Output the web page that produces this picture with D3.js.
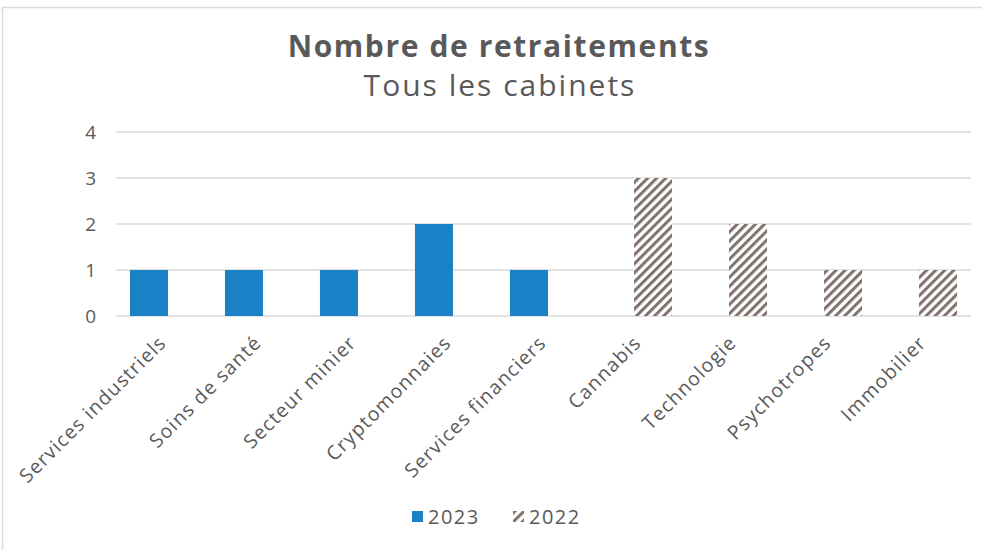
<!DOCTYPE html>
<html>
<head>
<meta charset="utf-8">
<script src="https://cdn.jsdelivr.net/npm/d3@7"></script>
<style>
    html, body { margin: 0; padding: 0; background: #fff; }
    svg { display: block; font-family: "Open Sans", sans-serif; }
</style>
</head>
<body>
<div id="chart"></div>
<script>
const categories = ['Services industriels', 'Soins de santé', 'Secteur minier', 'Cryptomonnaies',
    'Services financiers', 'Cannabis', 'Technologie', 'Psychotropes', 'Immobilier'];
const seriesNames = ['2023', '2022'];
const values2023 = [1, 1, 1, 2, 1, null, null, null, null];
const values2022 = [null, null, null, null, null, 3, 2, 1, 1];
const yTicks = [0, 1, 2, 3, 4];

const width = 982;
const height = 550;
const margin = { top: 132, right: 11, bottom: 234, left: 116 };
const textColor = '#595959';
const gridColor = '#d9d9d9';
const blue = '#1a81c6';
const brown = '#7f726c';

const svg = d3.select('#chart').append('svg')
    .attr('width', width)
    .attr('height', height);

// hatch pattern for 2022
const defs = svg.append('defs');
defs.append('pattern')
    .attr('id', 'hatch')
    .attr('patternUnits', 'userSpaceOnUse')
    .attr('width', 6.4)
    .attr('height', 10)
    .attr('patternTransform', 'rotate(45)')
    .call(p => {
        p.append('rect').attr('width', 6.4).attr('height', 10).attr('fill', '#fff');
        p.append('rect').attr('width', 3).attr('height', 10).attr('fill', brown);
    });

// outer frame
svg.append('rect')
    .attr('x', 2.5).attr('y', 7.5)
    .attr('width', 1000).attr('height', 600)
    .attr('fill', 'none')
    .attr('stroke', gridColor)
    .attr('stroke-width', 1.5);

// titles
svg.append('text')
    .attr('x', 499).attr('y', 57)
    .attr('text-anchor', 'middle')
    .attr('font-size', 30)
    .attr('font-weight', 'bold')
    .attr('letter-spacing', 1.6)
    .attr('fill', textColor)
    .text('Nombre de retraitements');

svg.append('text')
    .attr('x', 500).attr('y', 96)
    .attr('text-anchor', 'middle')
    .attr('font-size', 30)
    .attr('letter-spacing', 2)
    .attr('fill', textColor)
    .text('Tous les cabinets');

//____________________________________________________________
// scales
const x = d3.scaleBand()
    .domain(categories)
    .range([margin.left, width - margin.right]);

const y = d3.scaleLinear()
    .domain([0, 4])
    .range([height - margin.bottom, margin.top]);

const barWidth = x.bandwidth() * 0.4;
const offset = d3.scalePoint()
    .domain(seriesNames)
    .range([-x.bandwidth() * 0.153, x.bandwidth() * 0.153]);

// gridlines
svg.append('g')
    .selectAll('line')
    .data(yTicks)
    .join('line')
    .attr('x1', margin.left)
    .attr('x2', width - margin.right)
    .attr('y1', d => y(d))
    .attr('y2', d => y(d))
    .attr('stroke', gridColor)
    .attr('stroke-width', 1.5);

// y labels
svg.append('g')
    .selectAll('text')
    .data(yTicks)
    .join('text')
    .attr('x', margin.left - 20)
    .attr('y', d => y(d))
    .attr('dy', '0.35em')
    .attr('text-anchor', 'end')
    .attr('font-size', 19)
    .attr('fill', textColor)
    .text(d => d);

//____________________________________________________________
// bars
const series = [
    { name: '2023', values: values2023, fill: blue },
    { name: '2022', values: values2022, fill: 'url(#hatch)' }
];

series.forEach(s => {
    svg.append('g')
        .selectAll('rect')
        .data(categories.map((c, i) => ({ c, v: s.values[i] })).filter(d => d.v != null))
        .join('rect')
        .attr('x', d => x(d.c) + x.bandwidth() / 2 + offset(s.name) - barWidth / 2)
        .attr('width', barWidth)
        .attr('y', d => y(d.v))
        .attr('height', d => y(0) - y(d.v))
        .attr('fill', s.fill);
});

// category labels
svg.append('g')
    .selectAll('text')
    .data(categories)
    .join('text')
    .attr('transform', d => `translate(${x(d) + x.bandwidth() / 2 + 4},${y(0) + 28}) rotate(-45)`)
    .attr('text-anchor', 'end')
    .attr('font-size', 19.5)
    .attr('letter-spacing', 1.2)
    .attr('fill', textColor)
    .text(d => d);

//____________________________________________________________
// legend
const legend = svg.append('g')
    .selectAll('g')
    .data(series)
    .join('g')
    .attr('transform', (d, i) => `translate(${412 + i * 101},511)`);

legend.append('rect')
    .attr('width', 11)
    .attr('height', 11)
    .attr('fill', d => d.fill);

legend.append('text')
    .attr('x', 16)
    .attr('y', 5.5)
    .attr('dy', '0.35em')
    .attr('font-size', 20)
    .attr('letter-spacing', 1.5)
    .attr('fill', textColor)
    .text(d => d.name);
</script>
</body>
</html>
